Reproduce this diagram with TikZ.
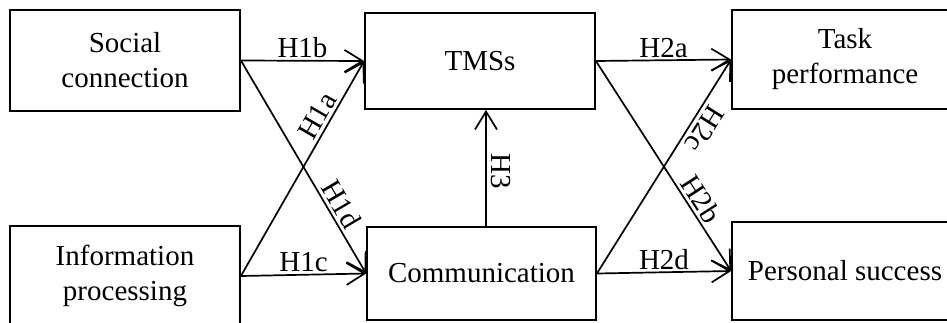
\documentclass[tikz,border=0pt]{standalone}
\usepackage{fontspec}
\setmainfont{Liberation Serif}
\usetikzlibrary{arrows.meta,calc}
\begin{document}
\begin{tikzpicture}[x=1pt,y=-1pt,
  box/.style={draw,line width=1.8pt,inner sep=0pt,align=center,
    font=\fontsize{29}{35}\selectfont},
  arr/.style={line width=1.7pt,-{Straight Barb[length=18pt,width=22pt,line width=1.7pt]}},
  lab/.style={font=\fontsize{29}{35}\selectfont,inner sep=2pt}]
\useasboundingbox (0,0) rectangle (947,322);
\clip (0,0) rectangle (947,322);
\node[box,minimum width=230pt,minimum height=101pt] (sc) at (125,60.5) {Social\\connection};
\node[box,minimum width=230pt,minimum height=100pt] (ip) at (125,276) {Information\\processing};
\node[box,minimum width=230pt,minimum height=96pt] (tms) at (480,61) {TMSs};
\node[box,minimum width=229pt,minimum height=93pt] (com) at (481.5,273.5) {Communication};
\node[box,minimum width=226pt,minimum height=99pt] (tp) at (845,59.5) {Task\\performance};
\node[box,minimum width=226pt,minimum height=98pt] (ps) at (845,271) {Personal success};
% H1
\draw[arr] (sc.east) -- node[lab,above] {H1b} (tms.west);
\draw[arr] (ip.east) -- node[lab,above] {H1c} (com.west);
\draw[arr] (ip.east) -- node[lab,pos=0.715,sloped,above,inner sep=3pt] {H1a} (tms.west);
\draw[arr] (sc.east) -- node[lab,pos=0.707,sloped,above,inner sep=3pt] {H1d} (com.west);
% H3
\draw[arr] ($(com.north)+(4.5,0)$) -- node[lab,pos=0.47,rotate=-90,anchor=south,inner sep=4pt] {H3} ($(tms.south)+(6,0)$);
% H2
\draw[arr] (tms.east) -- node[lab,above] {H2a} (tp.west);
\draw[arr] (com.east) -- node[lab,above] {H2d} (ps.west);
\draw[arr] (tms.east) -- node[lab,pos=0.693,sloped,above,inner sep=3pt] {H2b} (ps.west);
\draw[arr] (com.east) -- node[lab,pos=0.71,sloped,rotate=180,anchor=south,inner sep=4pt] {H2c} (tp.west);
\end{tikzpicture}
\end{document}
